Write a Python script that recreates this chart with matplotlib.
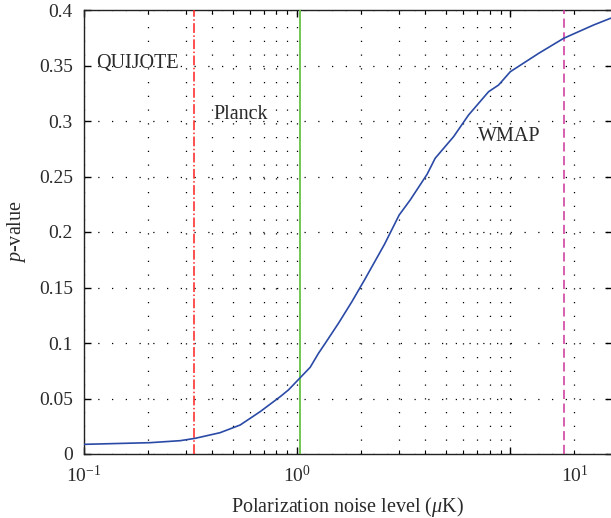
import numpy as np
import matplotlib
matplotlib.use('Agg')
import matplotlib.pyplot as plt
from matplotlib.ticker import NullFormatter, LogLocator

plt.rcParams['font.family'] = ['Liberation Serif', 'DejaVu Serif']
plt.rcParams['mathtext.fontset'] = 'custom'
plt.rcParams['mathtext.rm'] = 'Liberation Serif'
plt.rcParams['mathtext.it'] = 'Liberation Serif:italic'

# noise level (uK) vs p-value
noise = [0.1, 0.204, 0.2825, 0.332, 0.435, 0.540, 0.670, 0.832, 0.91, 1.033,
         1.151, 1.259, 1.354, 1.563, 1.806, 2.07, 2.57, 3.01, 3.39, 4.07,
         4.44, 5.42, 6.37, 7.91, 8.81, 10.0, 13.6, 17.8, 24.6, 29.5]
pval = [0.0087, 0.0102, 0.0120, 0.0141, 0.0192, 0.0261, 0.0381, 0.0516, 0.0577, 0.0687,
        0.0781, 0.0907, 0.0997, 0.1178, 0.1372, 0.1568, 0.189, 0.2153, 0.2288, 0.252,
        0.2664, 0.2859, 0.3054, 0.3264, 0.3324, 0.3444, 0.361, 0.3745, 0.3865, 0.3925]

experiments = ['QUIJOTE', 'Planck', 'WMAP']
exp_noise = [0.328, 1.033, 17.9]
label_pos = [(0.114, 0.352), (0.404, 0.306), (7.08, 0.2856)]

txt = '#2a2a2a'
fig = plt.figure(figsize=(6.11, 5.18), dpi=100)
ax = fig.add_axes([84 / 611, 64 / 518, 528 / 611, 444 / 518])

ax.plot(noise, pval, color='#2a4aa6', lw=1.2, zorder=4)
ax.axvline(exp_noise[0], color='#ff2020', ls='-.', lw=1.1, zorder=3)
ax.axvline(exp_noise[1], color='#66c444', ls='-', lw=1.3, zorder=3)
ax.axvline(exp_noise[2], color='#cc3399', ls='--', lw=1.1, dashes=(6, 3), zorder=3)

for name, (xx, yy) in zip(experiments, label_pos):
    ax.text(xx, yy, name, fontsize=14.5, color=txt, va='center', ha='left')

ax.set_xscale('log')
ax.set_xlim(0.1, 30)
ax.set_ylim(0, 0.4)
ax.set_yticks(np.arange(0, 0.401, 0.05))
ax.set_yticklabels(['0', '0.05', '0.1', '0.15', '0.2', '0.25', '0.3', '0.35', '0.4'])
ax.set_xticks([0.1, 1, 10])
ax.set_xticklabels([r'$10^{-1}$', r'$10^{0}$', ''])
ax.xaxis.set_minor_locator(LogLocator(base=10, subs=np.arange(2, 10)))
ax.xaxis.set_minor_formatter(NullFormatter())
ax.annotate(r'$10^{1}$', xy=(20, 0), xycoords=('data', 'axes fraction'),
            xytext=(0, -8), textcoords='offset points', ha='center', va='top',
            fontsize=14, color=txt)

ax.tick_params(which='both', direction='in', top=True, right=True,
               labelsize=14, labelcolor=txt, pad=8)
ax.tick_params(which='major', length=5, width=1)
ax.tick_params(which='minor', length=3, width=0.8)

dot = (0, (1, 10))
ax.grid(which='major', axis='both', color='k', ls=dot, lw=0.9)
ax.grid(which='minor', axis='x', color='k', ls=dot, lw=0.9)

for s in ax.spines.values():
    s.set_color('#222222')
    s.set_linewidth(1.0)

ax.set_xlabel(r'Polarization noise level ($\mu$K)', fontsize=14.5, color=txt, labelpad=6)
ax.set_ylabel(r'$p$-value', fontsize=14.5, color=txt, labelpad=8)

fig.savefig('out.png', dpi=100)
